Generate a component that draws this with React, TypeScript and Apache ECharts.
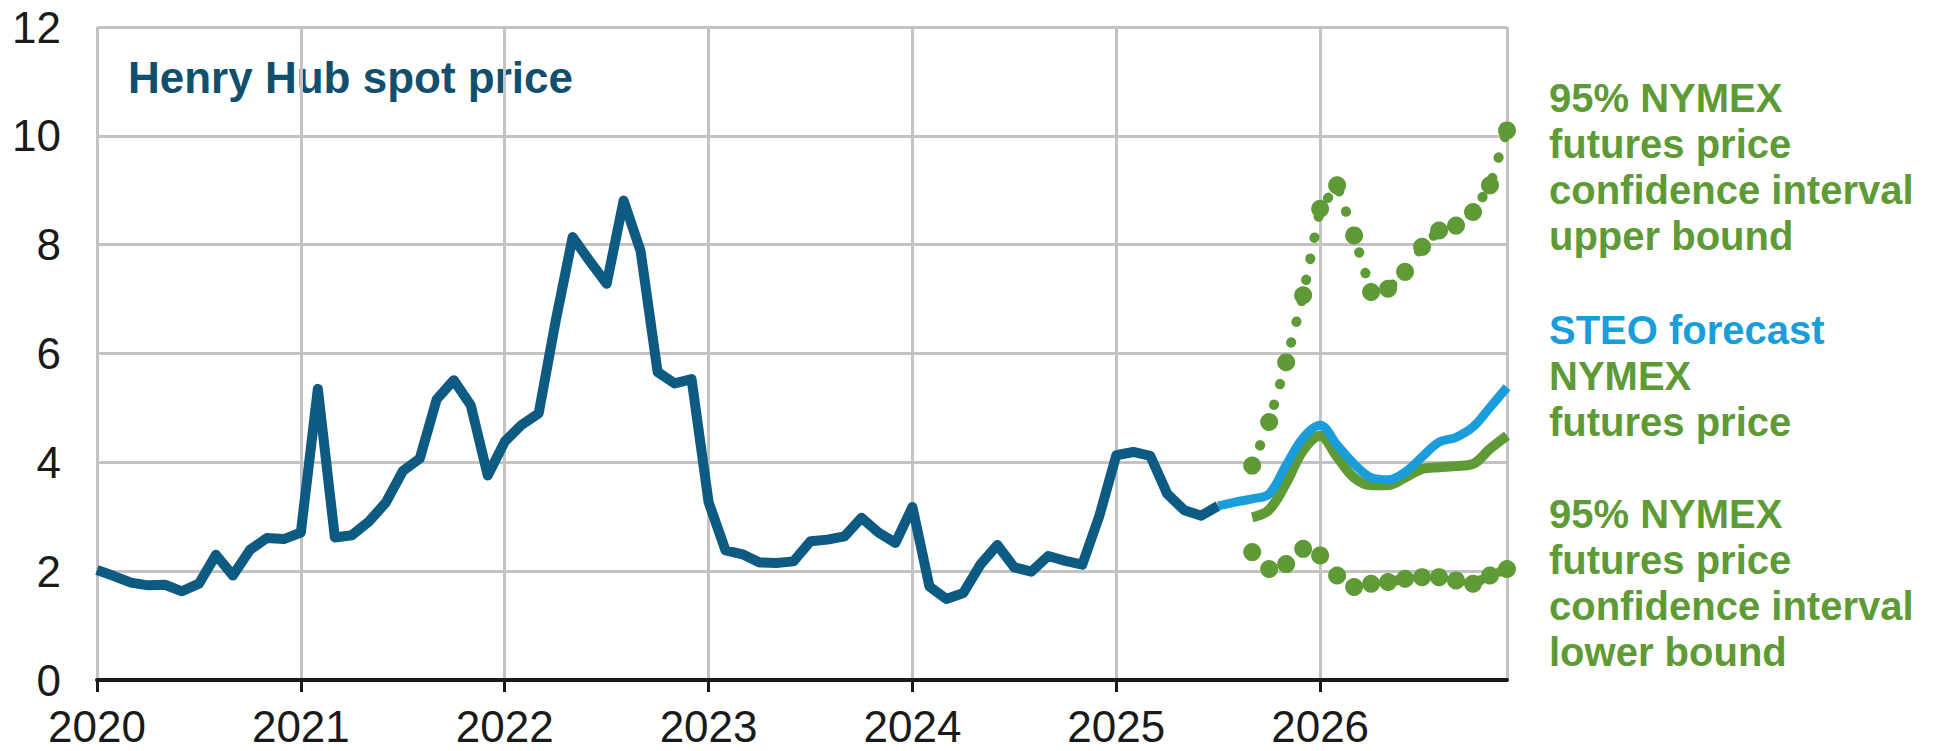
import React, { useEffect, useRef } from "react";
import * as echarts from "echarts";

const years = ["2020", "2021", "2022", "2023", "2024", "2025", "2026"];
const months = ["Jan", "Feb", "Mar", "Apr", "May", "Jun", "Jul", "Aug", "Sep", "Oct", "Nov", "Dec"];
const categories: string[] = [];
years.forEach((y) => months.forEach((m) => categories.push(`${m} ${y}`)));

// Henry Hub spot price, Jan 2020 - Jul 2025
const spotHistory = [
  2.02, 1.91, 1.79, 1.74, 1.75, 1.63, 1.77, 2.3, 1.92, 2.39, 2.61, 2.59,
  2.71, 5.35, 2.62, 2.66, 2.91, 3.26, 3.84, 4.07, 5.16, 5.51, 5.05, 3.76,
  4.38, 4.69, 4.9, 6.6, 8.14, 7.7, 7.28, 8.81, 7.88, 5.66, 5.45, 5.53,
  3.27, 2.38, 2.31, 2.16, 2.15, 2.18, 2.55, 2.58, 2.64, 2.98, 2.71, 2.52,
  3.18, 1.72, 1.49, 1.6, 2.12, 2.48, 2.07, 1.99, 2.28, 2.19, 2.12, 3.01,
  4.13, 4.19, 4.12, 3.42, 3.12, 3.02, 3.2,
];
// STEO forecast, Jul 2025 - Dec 2026
const steoForecast = [
  3.2, 3.27, 3.33, 3.42, 3.95, 4.45,
  4.68, 4.32, 3.97, 3.72, 3.68, 3.82, 4.1, 4.37, 4.46, 4.65, 5.01, 5.38,
];
// NYMEX futures price, Sep 2025 - Dec 2026
const nymexFutures = [
  2.99, 3.13, 3.62, 4.22,
  4.49, 4.1, 3.72, 3.58, 3.58, 3.72, 3.88, 3.91, 3.93, 3.97, 4.25, 4.49,
];
const upperBound = [
  3.94, 4.74, 5.84, 7.07,
  8.66, 9.09, 8.17, 7.13, 7.19, 7.5, 7.96, 8.26, 8.35, 8.6, 9.09, 10.1,
];
const lowerBound = [
  2.35, 2.04, 2.13, 2.41,
  2.29, 1.92, 1.71, 1.77, 1.8, 1.86, 1.89, 1.89, 1.83, 1.77, 1.92, 2.04,
];

const yTicks = { min: 0, max: 12, interval: 2 };

const pad = (arr: number[], start: number): (number | null)[] => {
  const out: (number | null)[] = new Array(categories.length).fill(null);
  arr.forEach((v, i) => (out[start + i] = v));
  return out;
};

const TEAL = "#0d5a82";
const BLUE = "#1a9ddb";
const GREEN = "#5e9a36";
const FONT = "'Liberation Sans', Arial, sans-serif";

export default function App() {
  const ref = useRef<HTMLDivElement>(null);
  useEffect(() => {
    if (!ref.current) return;
    const chart = echarts.init(ref.current, undefined, { renderer: "svg" });
    const last = categories.length - 1;
    const textLine = (text: string, y: number, color: string) => ({
      type: "text",
      left: 1549,
      top: y - 22,
      style: { text, fill: color, font: `bold 40px ${FONT}` },
    });
    const boundSeries = (name: string, data: number[]) => ({
      name,
      type: "line",
      data: pad(data, 68),
      symbol: "circle",
      symbolSize: 18,
      showSymbol: true,
      showAllSymbol: true,
      itemStyle: { color: GREEN },
      lineStyle: { color: GREEN, width: 10, type: [0.5, 21], cap: "round" },
      z: 3,
    });
    chart.setOption({
      animation: false,
      backgroundColor: "#ffffff",
      grid: { left: 97, right: 426, top: 27, bottom: 71, containLabel: false },
      xAxis: {
        type: "category",
        data: categories,
        boundaryGap: false,
        axisLine: { lineStyle: { color: "#1a1a1a", width: 4 } },
        axisTick: {
          show: true,
          length: 12,
          interval: (i: number) => i % 12 === 0,
          lineStyle: { color: "#1a1a1a", width: 3 },
        },
        axisLabel: {
          interval: (i: number) => i % 12 === 0,
          formatter: (v: string) => v.split(" ")[1],
          fontSize: 44,
          color: "#1a1a1a",
          fontFamily: FONT,
          margin: 24,
        },
        splitLine: {
          show: true,
          interval: (i: number) => i % 12 === 0 || i === last,
          lineStyle: { color: "#c3c3c3", width: 3 },
        },
      },
      yAxis: {
        type: "value",
        min: yTicks.min,
        max: yTicks.max,
        interval: yTicks.interval,
        axisLine: { show: false },
        axisTick: { show: false },
        axisLabel: { fontSize: 44, color: "#1a1a1a", fontFamily: FONT, margin: 36 },
        splitLine: { lineStyle: { color: "#c3c3c3", width: 3 } },
      },
      series: [
        {
          name: "Henry Hub spot price",
          type: "line",
          data: pad(spotHistory, 0),
          showSymbol: false,
          lineStyle: { color: TEAL, width: 10, join: "round" },
          z: 3,
        },
        {
          name: "NYMEX futures price",
          type: "line",
          data: pad(nymexFutures, 68),
          showSymbol: false,
          smooth: 0.35,
          lineStyle: { color: GREEN, width: 10 },
          z: 3,
        },
        {
          name: "STEO forecast",
          type: "line",
          data: pad(steoForecast, 66),
          showSymbol: false,
          smooth: 0.35,
          lineStyle: { color: BLUE, width: 9 },
          z: 4,
        },
        boundSeries("upper bound", upperBound),
        boundSeries("lower bound", lowerBound),
      ],
      graphic: [
        {
          type: "text",
          left: 128,
          top: 55,
          style: { text: "Henry Hub spot price", fill: "#104f6e", font: `bold 44px ${FONT}` },
        },
        textLine("95% NYMEX", 100, GREEN),
        textLine("futures price", 146, GREEN),
        textLine("confidence interval", 192, GREEN),
        textLine("upper bound", 238, GREEN),
        textLine("STEO forecast", 332, BLUE),
        textLine("NYMEX", 378, GREEN),
        textLine("futures price", 424, GREEN),
        textLine("95% NYMEX", 516, GREEN),
        textLine("futures price", 562, GREEN),
        textLine("confidence interval", 608, GREEN),
        textLine("lower bound", 654, GREEN),
      ],
    });
    return () => chart.dispose();
  }, []);
  return (
    <div
      ref={ref}
      style={{ position: "absolute", left: 0, top: 0, width: 1933, height: 751, background: "#fff" }}
    />
  );
}
